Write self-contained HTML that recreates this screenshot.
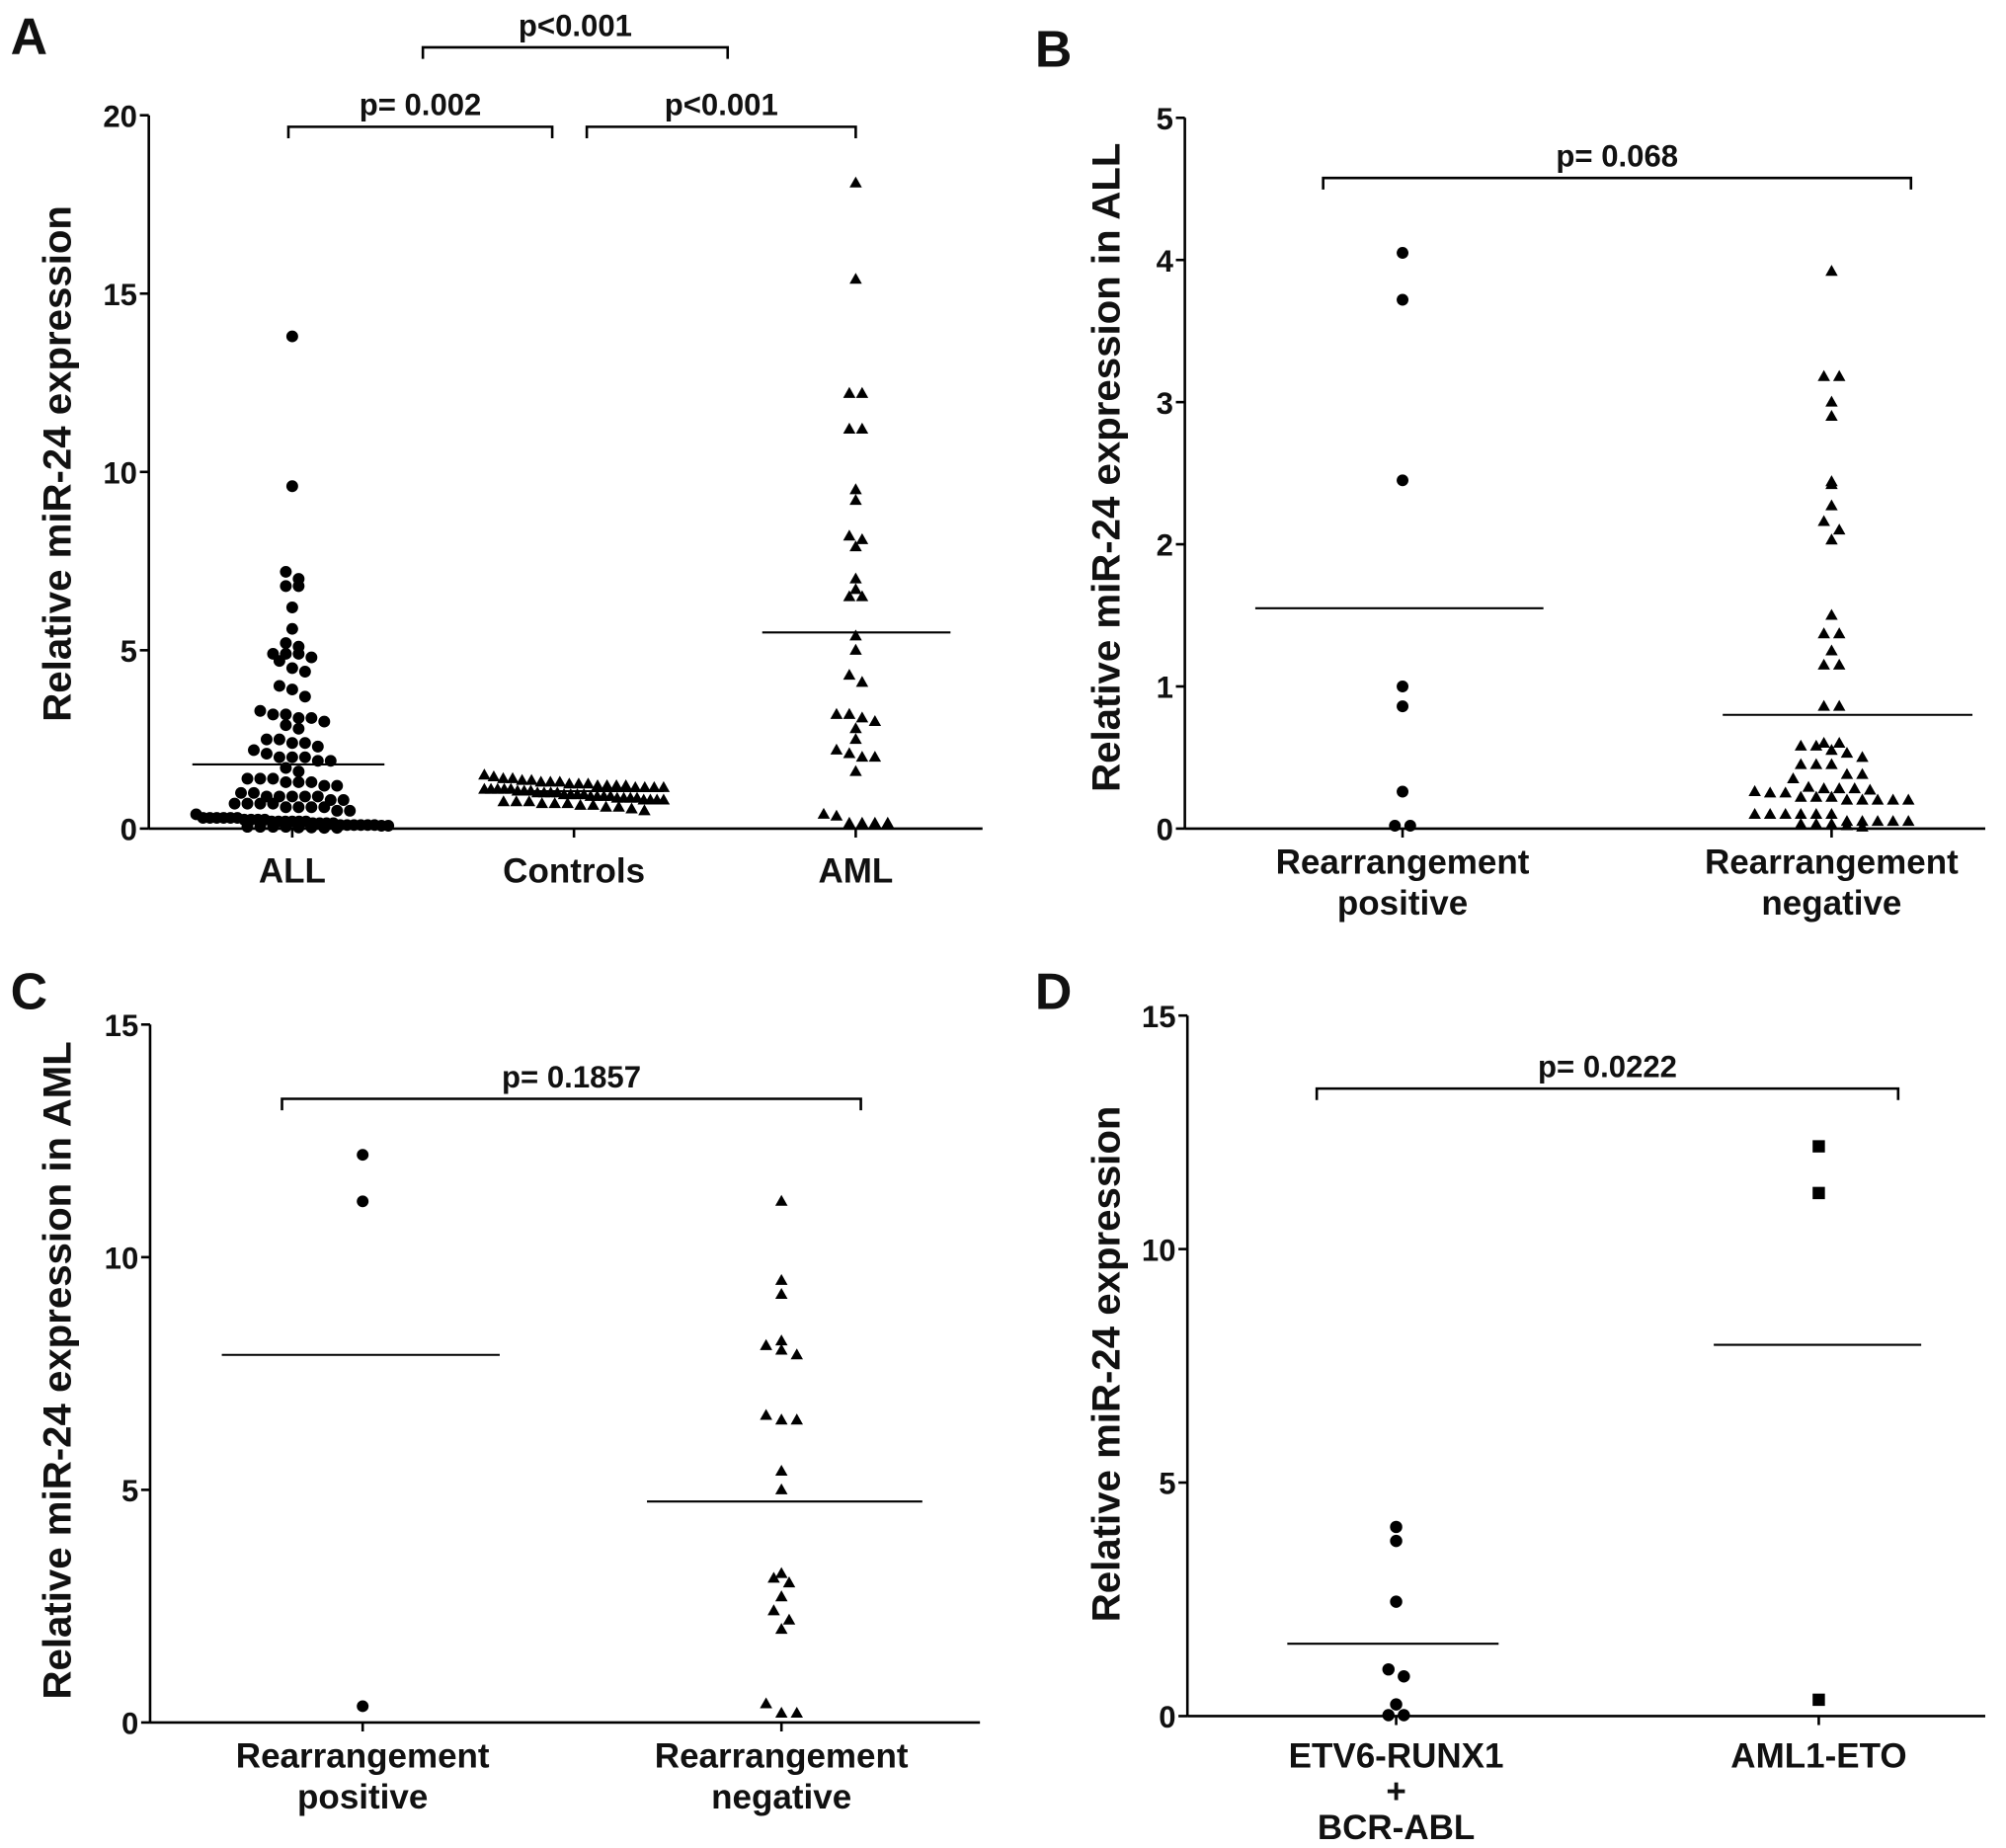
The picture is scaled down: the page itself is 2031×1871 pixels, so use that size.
<!DOCTYPE html>
<html><head><meta charset="utf-8"><style>
html,body{margin:0;padding:0;background:#fff}
svg{display:block}
text{font-family:"Liberation Sans",Arial,sans-serif;font-weight:bold;fill:#111}
</style></head><body>
<svg id="fig" width="2031" height="1871" viewBox="0 0 1566 1443" xmlns="http://www.w3.org/2000/svg"></svg>
<script>
// Panel A data
const aCats = ["ALL","Controls","AML"];
const aAll = [13.8,9.6,7.2,7.0,6.8,6.8,6.2,5.6,5.2,5.1,4.9,4.9,4.9,4.8,4.7,4.5,4.4,4.0,3.9,3.7,3.3,3.2,3.2,3.1,3.1,3.0,2.9,2.8,2.5,2.5,2.4,2.4,2.3,2.2,2.1,2.0,2.0,2.0,1.9,1.9,1.7,1.6,1.4,1.4,1.3,1.3,1.3,1.4,1.2,1.2,1.0,1.0,0.9,0.9,0.9,0.9,0.9,0.8,0.8,0.7,0.7,0.7,0.7,0.6,0.6,0.6,0.6,0.5,0.5,0.4,0.3,0.3,0.3,0.3,0.3,0.3,0.25,0.25,0.25,0.25,0.2,0.2,0.2,0.2,0.2,0.2,0.15,0.15,0.15,0.15,0.1,0.1,0.1,0.1,0.1,0.1,0.08,0.08,0.05,0.05,0.05,0.05,0.03,0.03,0.02,0.02];
const aCtrl = [1.5,1.45,1.4,1.4,1.35,1.35,1.3,1.3,1.3,1.25,1.25,1.25,1.2,1.2,1.2,1.2,1.15,1.15,1.15,1.15,1.1,1.1,1.1,1.1,1.1,1.05,1.05,1.05,1.0,1.0,1.0,1.0,0.95,0.95,0.95,0.95,0.9,0.9,0.9,0.9,0.85,0.85,0.85,0.85,0.8,0.8,0.8,0.8,0.75,0.75,0.75,0.7,0.7,0.7,0.65,0.65,0.6,0.6,0.55,0.5];
const aAml = [18.1,15.4,12.2,12.2,11.2,11.2,9.5,9.2,8.2,8.1,7.9,7.0,6.7,6.5,6.5,5.4,5.0,4.3,4.1,3.2,3.2,3.1,3.0,2.8,2.5,2.2,2.1,2.0,2.0,1.6,0.4,0.35,0.15,0.15,0.15,0.15];
const aMeans = [1.8,1.05,5.5];
const aTicks = [0,5,10,15,20];
// Panel B data
const bCats = [["Rearrangement","positive"],["Rearrangement","negative"]];
const bPos = [4.05,3.72,2.45,1.0,0.86,0.26,0.02,0.02];
const bNeg = [3.92,3.18,3.18,3.0,2.9,2.44,2.42,2.27,2.16,2.1,2.03,1.5,1.37,1.37,1.25,1.15,1.15,0.86,0.86,0.6,0.58,0.58,0.6,0.55,0.53,0.5,0.45,0.45,0.45,0.38,0.35,0.38,0.29,0.28,0.27,0.26,0.25,0.22,0.22,0.2,0.2,0.2,0.2,0.2,0.22,0.25,0.28,0.28,0.1,0.1,0.1,0.05,0.05,0.05,0.03,0.02,0.03,0.03,0.05,0.05,0.1,0.1,0.1,0.01];
const bMeans = [1.55,0.8];
const bTicks = [0,1,2,3,4,5];
// Panel C data
const cCats = [["Rearrangement","positive"],["Rearrangement","negative"]];
const cPos = [12.2,11.2,0.35];
const cNeg = [11.2,9.5,9.2,8.2,8.1,8.0,7.9,6.6,6.5,6.5,5.4,5.0,3.2,3.1,3.0,2.7,2.4,2.2,2.0,0.4,0.2,0.2];
const cMeans = [7.9,4.75];
const cTicks = [0,5,10,15];
// Panel D data
const dCats = [["ETV6-RUNX1","+","BCR-ABL"],["AML1-ETO"]];
const dLeft = [4.05,3.75,2.45,1.0,0.85,0.25,0.02,0.02];
const dRight = [12.2,11.2,0.35];
const dMeans = [1.55,7.95];
const dTicks = [0,5,10,15];

const NS="http://www.w3.org/2000/svg";
const svg=document.getElementById('fig');
function el(tag,attrs,parent,txt){const e=document.createElementNS(NS,tag);for(const k in attrs)e.setAttribute(k,attrs[k]);if(txt!==undefined)e.textContent=txt;(parent||svg).appendChild(e);return e;}

function swarm(vals,cx,yf,d,maxHalf){
  const out=[];const bins={};
  vals.forEach(v=>{const y=yf(v);const b=Math.round(y/d);(bins[b]=bins[b]||[]).push(y);});
  Object.keys(bins).forEach(b=>{const ys=bins[b].sort((a,b)=>a-b);const n=ys.length;
    let sp=d; if(n>1 && (n-1)*d/2>maxHalf) sp=2*maxHalf/(n-1);
    ys.forEach((y,i)=>{const off=(i-(n-1)/2)*sp;out.push({x:cx+off,y:y});});
  });
  return out;
}
function marker(g,shape,x,y,s){
  let m;
  if(shape==='circle')m=el('circle',{cx:x,cy:y,r:s},g);
  else if(shape==='tri')m=el('polygon',{points:`${x},${y-s*1.1} ${x-s*1.05},${y+s*0.75} ${x+s*1.05},${y+s*0.75}`},g);
  else m=el('rect',{x:x-s,y:y-s,width:2*s,height:2*s},g);
  m.setAttribute('fill','#000');
  
  
}
function panel(o){
  const g=el('g',{});
  
  
  const yf=v=>o.y0-(v/o.max)*(o.y0-o.yTop);
  const lt=el('text',{x:o.lx,y:o.ly,'font-size':40},g,o.letter);
  
  const ax=el('line',{x1:o.ax,y1:o.yTop,x2:o.ax,y2:o.y0,stroke:'#000','stroke-width':2},g);
  
  const xx=el('line',{x1:o.ax,y1:o.y0,x2:o.axEnd,y2:o.y0,stroke:'#000','stroke-width':2},g);
  
  o.ticks.forEach(t=>{const y=yf(t);
    el('line',{x1:o.ax-7,y1:y,x2:o.ax,y2:y,stroke:'#000','stroke-width':2},g);
    const tl=el('text',{x:o.ax-9,y:y+9,'font-size':24,'text-anchor':'end'},g,t);
    });
  const yt=el('text',{transform:`translate(${o.tx},${o.tyc}) rotate(-90)`,'font-size':31,'text-anchor':'middle'},g,o.ytitle);
  
  o.cats.forEach((c,i)=>{const x=o.cx[i];
    el('line',{x1:x,y1:o.y0,x2:x,y2:o.y0+7,stroke:'#000','stroke-width':2},g);
    const lines=Array.isArray(c)?c:[c];
    lines.forEach((ln,j)=>{const t=el('text',{x:x,y:o.y0+(o.catDy||42)+j*(o.catLh||32),'font-size':27,'text-anchor':'middle'},g,ln);
      });
    swarm(o.series[i],x,yf,o.d,o.maxHalf[i]).forEach(p=>marker(g,o.shapes[i],p.x,p.y,o.ms));
    const ml=el('line',{x1:o.mx[i][0],y1:yf(o.means[i]),x2:o.mx[i][1],y2:yf(o.means[i]),stroke:'#000','stroke-width':1.6},g);
    
  });
  o.brackets.forEach(b=>{
    const p=el('path',{d:`M${b[0]},${b[2]+9} V${b[2]} H${b[1]} V${b[2]+9}`,fill:'none',stroke:'#000','stroke-width':2},g);
    
    const t=el('text',{x:(b[0]+b[1])/2,y:b[2]-9,'font-size':24,'text-anchor':'middle'},g,b[3]);
    
  });
}
panel({letter:'A',lx:8,ly:42,ax:116,axEnd:767,y0:647,yTop:90,max:20,ticks:aTicks,tx:55,tyc:362,
  ytitle:'Relative miR-24 expression',cats:aCats,cx:[228,448,668],series:[aAll,aCtrl,aAml],
  shapes:['circle','tri','tri'],d:10,ms:4.6,maxHalf:[75,70,40],means:aMeans,mx:[[150,300],[380,518],[595,742]],
  brackets:[[225,431,99,'p= 0.002'],[458,668,99,'p<0.001'],[330,568,37,'p<0.001']]});
panel({letter:'B',lx:808,ly:52,ax:925,axEnd:1550,y0:647,yTop:92,max:5,ticks:bTicks,tx:874,tyc:365,
  ytitle:'Relative miR-24 expression in  ALL',cats:bCats,cx:[1095,1430],series:[bPos,bNeg],
  shapes:['circle','tri'],d:12,ms:4.6,maxHalf:[40,100],means:bMeans,mx:[[980,1205],[1345,1540]],catDy:35,
  brackets:[[1033,1492,139,'p= 0.068']]});
panel({letter:'C',lx:8,ly:788,ax:117,axEnd:765,y0:1345,yTop:800,max:15,ticks:cTicks,tx:55,tyc:1070,
  ytitle:'Relative miR-24 expression in AML',cats:cCats,cx:[283,610],series:[cPos,cNeg],
  shapes:['circle','tri'],d:12,ms:4.6,maxHalf:[40,40],means:cMeans,mx:[[173,390],[505,720]],catDy:35,
  brackets:[[220,672,858,'p= 0.1857']]});
panel({letter:'D',lx:808,ly:788,ax:927,axEnd:1550,y0:1340,yTop:793,max:15,ticks:dTicks,tx:874,tyc:1065,
  ytitle:'Relative miR-24 expression',cats:dCats,cx:[1090,1420],series:[dLeft,dRight],
  shapes:['circle','square'],d:12,ms:4.8,maxHalf:[40,40],means:dMeans,mx:[[1005,1170],[1338,1500]],catDy:40,catLh:28,
  brackets:[[1028,1482,850,'p= 0.0222']]});
</script>
</body></html>
